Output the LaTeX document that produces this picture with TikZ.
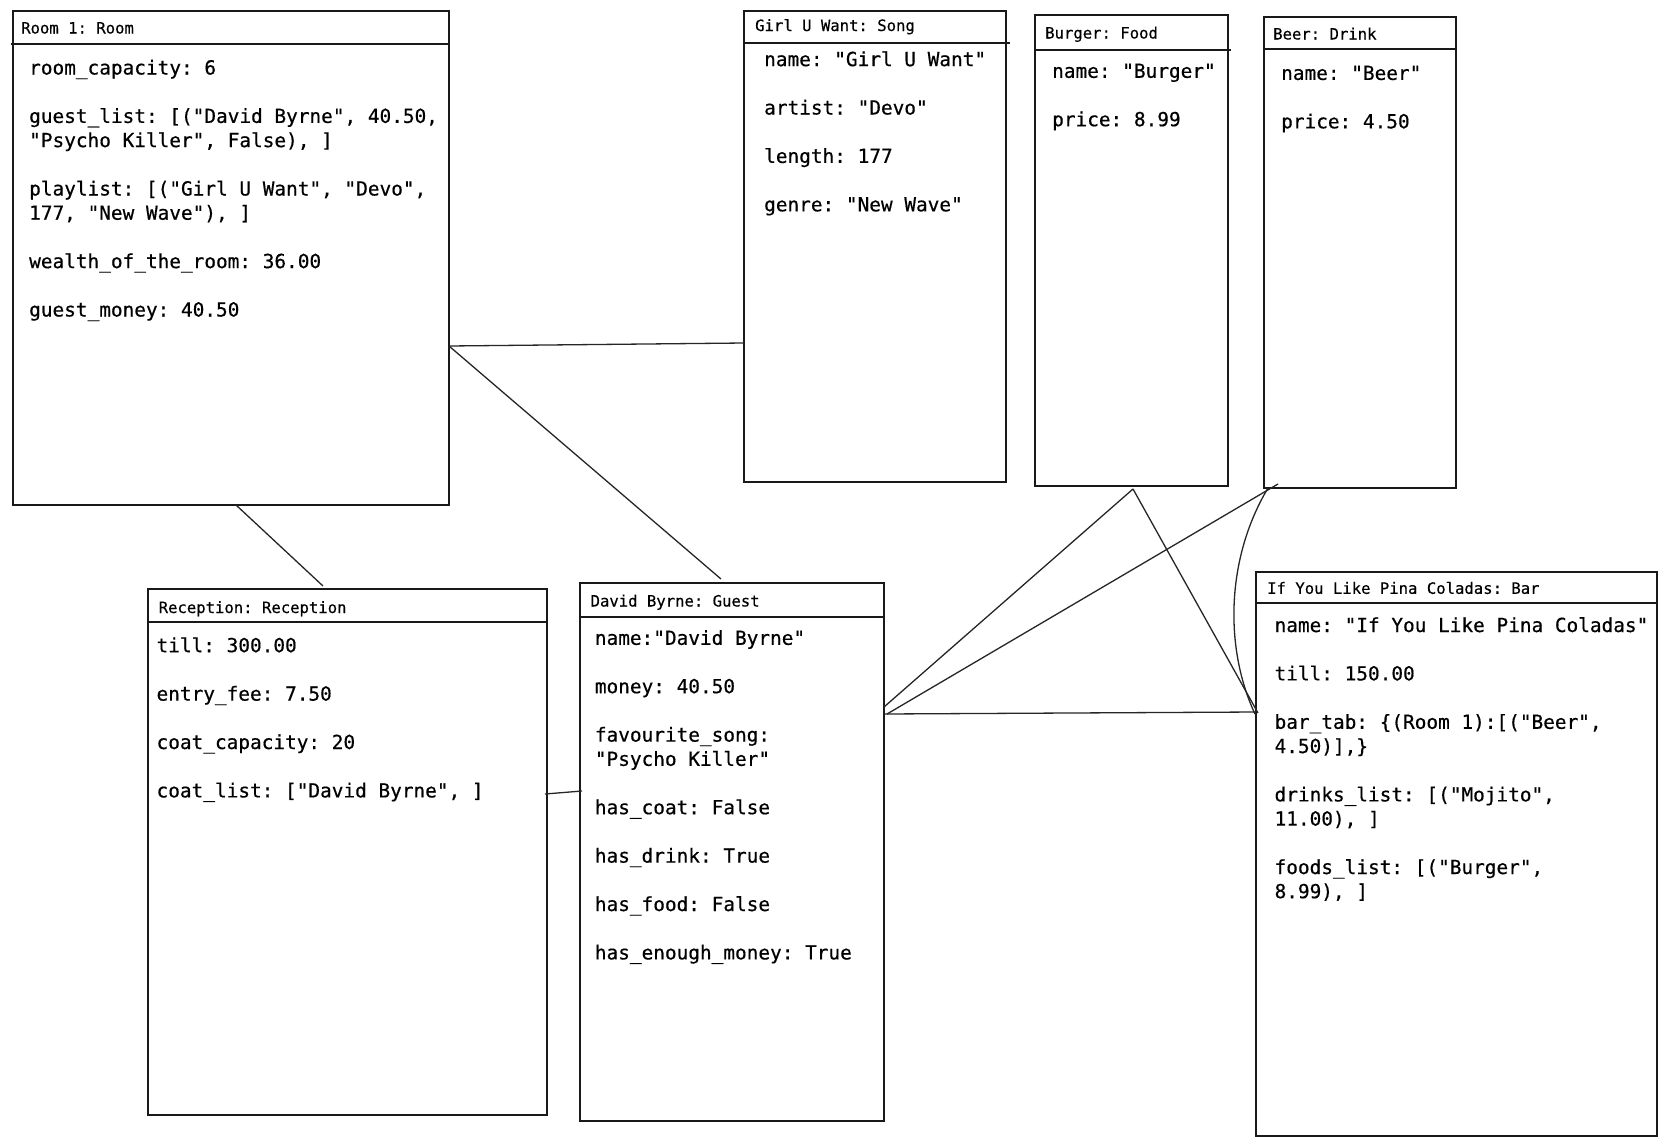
\documentclass[tikz,border=0pt]{standalone}
\usepackage{fontspec}
\newfontfamily\monofont[FakeBold=0.5]{DejaVu Sans Mono}
\newfontfamily\monohead[FakeBold=0.3]{DejaVu Sans Mono}
\newcommand\attrfont{\monofont\fontsize{19.4}{24.2}\selectfont\frenchspacing}
\newcommand\headfont{\monohead\fontsize{15.6}{18}\selectfont\frenchspacing}
\tikzset{
  box/.style={draw=black!90, line width=1.3pt, inner sep=0pt, outer sep=0pt, anchor=north west},
  headrule/.style={draw=black!90, line width=1.3pt},
  head/.style={font=\headfont, anchor=base west, inner sep=0pt, text=black},
  attr/.style={font=\attrfont, anchor=base west, inner sep=0pt, text=black},
  link/.style={draw=black!85, line width=1.3pt}
}
\begin{document}
\begin{tikzpicture}[x=1pt, y=-1pt]
\useasboundingbox[fill=white] (0,0) rectangle (1668,1146);

% object boxes
\node[box, minimum width=436pt, minimum height=494pt] (room) at (13,11) {};
\node[box, minimum width=262pt, minimum height=471pt] (song) at (744,11) {};
\node[box, minimum width=193pt, minimum height=471pt] (burger) at (1035,15) {};
\node[box, minimum width=192pt, minimum height=471pt] (beer) at (1264,17) {};
\node[box, minimum width=399pt, minimum height=526pt] (reception) at (148,589) {};
\node[box, minimum width=304pt, minimum height=538pt] (guest) at (580,583) {};
\node[box, minimum width=401pt, minimum height=564pt] (bar) at (1256,572) {};

% header rules
\draw[headrule] ([xshift=-2pt]room.west |- 0,44) -- (room.east |- 0,44);
\draw[headrule] (song.west |- 0,43) -- ([xshift=4pt]song.east |- 0,43);
\draw[headrule] (burger.west |- 0,50) -- ([xshift=3pt]burger.east |- 0,50);
\draw[headrule] (beer.west |- 0,49) -- (beer.east |- 0,49);
\draw[headrule] (reception.west |- 0,622) -- (reception.east |- 0,622);
\draw[headrule] (guest.west |- 0,617) -- (guest.east |- 0,617);
\draw[headrule] (bar.west |- 0,603) -- (bar.east |- 0,603);

% headers
\node[head] (room-h) at (21,33.5) {Room 1: Room};
\node[head] (song-h) at (755,31) {Girl U Want: Song};
\node[head] (burger-h) at (1045,38.5) {Burger: Food};
\node[head] (beer-h) at (1273,39.5) {Beer: Drink};
\node[head] (reception-h) at (158.5,613) {Reception: Reception};
\node[head] (guest-h) at (590.4,606.5) {David Byrne: Guest};
\node[head] (bar-h) at (1267,593.8) {If You Like Pina Coladas: Bar};

% attributes
\foreach \i/\t in {0/{room\_capacity: 6},
  2/{guest\_list: [("David Byrne", 40.50,},
  3/{"Psycho Killer", False), ]},
  5/{playlist: [("Girl U Want", "Devo",},
  6/{177, "New Wave"), ]},
  8/{wealth\_of\_the\_room: 36.00},
  10/{guest\_money: 40.50}}
  \node[attr] (room-\i) at (29,{74.5+24.2*\i}) {\t};

\foreach \i/\t in {0/{name: "Girl U Want"},
  2/{artist: "Devo"},
  4/{length: 177},
  6/{genre: "New Wave"}}
  \node[attr] (song-\i) at (764,{66.1+24.2*\i}) {\t};

\foreach \i/\t in {0/{name: "Burger"}, 2/{price: 8.99}}
  \node[attr] (burger-\i) at (1052,{77.8+24.2*\i}) {\t};

\foreach \i/\t in {0/{name: "Beer"}, 2/{price: 4.50}}
  \node[attr] (beer-\i) at (1281,{79.9+24.2*\i}) {\t};

\foreach \i/\t in {0/{till: 300.00},
  2/{entry\_fee: 7.50},
  4/{coat\_capacity: 20},
  6/{coat\_list: ["David Byrne", ]}}
  \node[attr] (reception-\i) at (156.4,{652.2+24.2*\i}) {\t};

\foreach \i/\t in {0/{name:"David Byrne"},
  2/{money: 40.50},
  4/{favourite\_song:},
  5/{"Psycho Killer"},
  7/{has\_coat: False},
  9/{has\_drink: True},
  11/{has\_food: False},
  13/{has\_enough\_money: True}}
  \node[attr] (guest-\i) at (594.7,{644.8+24.2*\i}) {\t};

\foreach \i/\t in {0/{name: "If You Like Pina Coladas"},
  2/{till: 150.00},
  4/{bar\_tab: \{(Room 1):[("Beer",},
  5/{4.50)],\}},
  7/{drinks\_list: [("Mojito",},
  8/{11.00), ]},
  10/{foods\_list: [("Burger",},
  11/{8.99), ]}}
  \node[attr] (bar-\i) at (1274.4,{632+24.2*\i}) {\t};

% connectors
\draw[link] (room.east |- 0,346) -- (song.west |- 0,343);
\draw[link] (room.east |- 0,346) -- ([yshift=4pt]guest.north -| 721,0);
\draw[link] (room.south -| 236,0) -- ([yshift=3pt]reception.north -| 323,0);
\draw[link] ([xshift=-2pt]reception.east |- 0,794) -- ([xshift=2pt]guest.west |- 0,791);
\draw[link] (guest.east |- 0,714) -- (bar.west |- 0,712);
\draw[link] (guest.east |- 0,707) -- ([yshift=-3pt]burger.south -| 1133,0);
\draw[link] ([xshift=3pt]guest.east |- 0,714) -- ([yshift=4pt]beer.south -| 1278,0);
\draw[link] ([yshift=-3pt]burger.south -| 1133,0) -- ([xshift=2pt]bar.west |- 0,713);
\draw[link] (beer.south -| 1268,0) .. controls (1225,560) and (1225,650) .. ([xshift=-1pt]bar.west |- 0,714);
\end{tikzpicture}
\end{document}
